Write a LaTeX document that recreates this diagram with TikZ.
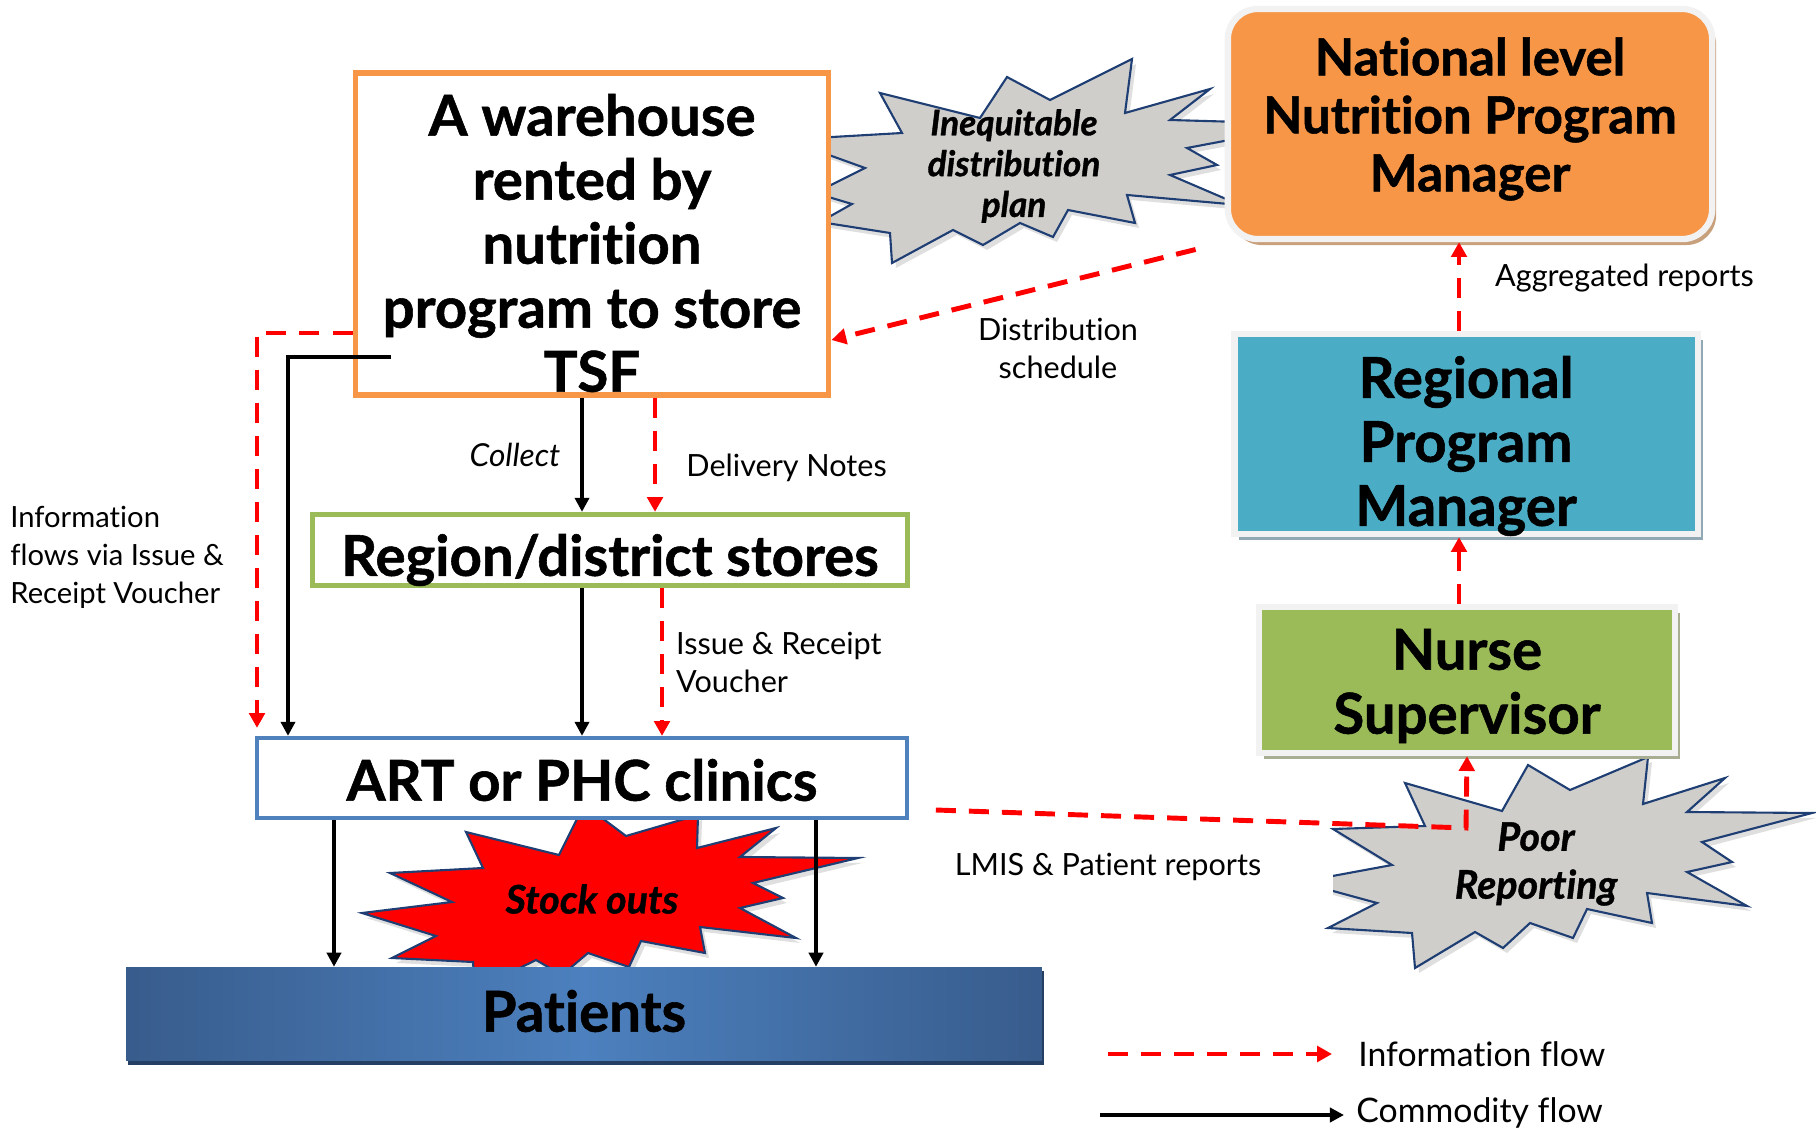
\documentclass[tikz,border=0pt]{standalone}
\usepackage{fontspec}
\setmainfont{Lato}[RawFeature={-liga;-clig;-dlig;-calt}, BoldFeatures={FakeBold=1.0}, BoldItalicFeatures={FakeBold=1.0}]
\usetikzlibrary{arrows.meta,positioning,calc,shadows}

\definecolor{whorange}{HTML}{F79646}
\definecolor{storegreen}{HTML}{9BBB59}
\definecolor{clinicblue}{HTML}{4F81BD}
\definecolor{regaqua}{HTML}{4BACC6}
\definecolor{burstgray}{HTML}{D0CECB}
\definecolor{burstline}{HTML}{1F3F74}
\definecolor{infored}{HTML}{FF0000}
\definecolor{panelrim}{HTML}{F2F2F2}
\definecolor{natshadow}{HTML}{C9A07C}
\definecolor{regshadow}{HTML}{90A9B4}
\definecolor{nurseshadow}{HTML}{A7AE92}
\definecolor{patdark}{HTML}{385C8C}
\definecolor{patlight}{HTML}{4C80BE}
\definecolor{patshadow}{HTML}{243F63}

\begin{document}
\begin{tikzpicture}[
  x=0.01cm, y=-0.01cm,
  every node/.style={align=center},
  bigtext/.style={font=\fontsize{16}{18.2}\selectfont\bfseries},
  lbl/.style={font=\fontsize{8.7}{10.8}\selectfont},
  burst/.style={fill=burstgray, draw=burstline, line width=0.6pt,
    drop shadow={shadow xshift=0.04cm, shadow yshift=-0.05cm, opacity=0.25}},
  burstlbl/.style={font=\fontsize{10}{11.6}\selectfont\bfseries\itshape},
  whbox/.style={draw=whorange, line width=1.6pt, fill=white,
    minimum width=4.73cm, minimum height=3.22cm},
  flatbox/.style={fill=white, inner sep=0pt},
  panel/.style={draw=panelrim, line width=1.8pt, inner sep=0pt},
  legendtext/.style={anchor=west, font=\fontsize{9.6}{12}\selectfont},
  info/.style={->, >={Triangle[length=4.2pt,width=4.4pt]}, draw=infored,
    line width=1.4pt, dash pattern=on 5.7pt off 3.7pt},
  goods/.style={->, >={Triangle[length=4pt,width=4pt]}, line width=1.1pt}]

  \useasboundingbox (0,0) rectangle (1816,1134);

  % Starbursts (behind the boxes)
  \draw[burst] (815,138) -- (902,133) -- (880,93) -- (980,118) -- (1007,77)
    -- (1050,100) -- (1132,59) -- (1125,113) -- (1210,89) -- (1170,120)
    -- (1240,122) -- (1240,138) -- (1187,148) -- (1217,165) -- (1170,175)
    -- (1240,205) -- (1127,195) -- (1135,223) -- (1068,210) -- (1053,237)
    -- (1020,223) -- (983,245) -- (953,230) -- (892,263) -- (890,233)
    -- (820,222) -- (852,204) -- (815,193) -- (865,168) -- (815,150) -- cycle;
  \draw[burst] (1405,783) -- (1425,826) -- (1333,829) -- (1392,865) -- (1300,882)
    -- (1377,903) -- (1328,928) -- (1412,933) -- (1415,968) -- (1475,932)
    -- (1503,948) -- (1530,923) -- (1573,938) -- (1587,909) -- (1652,923)
    -- (1647,893) -- (1747,906) -- (1687,872) -- (1732,862) -- (1702,842)
    -- (1812,813) -- (1687,812) -- (1725,778) -- (1643,804) -- (1648,757)
    -- (1570,790) -- (1528,765) -- (1502,811) -- cycle;
  \draw[burst, fill=infored] (466,832) -- (483,868) -- (390,873) -- (452,902)
    -- (362,913) -- (436,936) -- (392,958) -- (473,962) -- (475,990)
    -- (536,960) -- (562,975) -- (588,953) -- (629,967) -- (641,941)
    -- (705,953) -- (700,927) -- (796,938) -- (740,908) -- (783,898)
    -- (753,883) -- (858,858) -- (740,857) -- (776,828) -- (697,848)
    -- (698,815) -- (626,836) -- (602,818) -- (579,815) -- (559,855) -- cycle;

  % Boxes
  \node[whbox] (wh) at (592,234) {};
  \node[panel, fill=whorange, rounded corners=0.3cm, minimum width=4.84cm,
    minimum height=2.3cm,
    drop shadow={shadow xshift=0.04cm, shadow yshift=-0.06cm, fill=natshadow, opacity=1}]
    (natl) at (1470,124) {};
  \node[panel, fill=regaqua, minimum width=4.63cm, minimum height=2.0cm,
    drop shadow={shadow xshift=0.05cm, shadow yshift=-0.06cm, fill=regshadow, opacity=1}]
    (regional) at (1466,434) {};
  \node[panel, fill=storegreen, minimum width=4.16cm, minimum height=1.46cm,
    drop shadow={shadow xshift=0.05cm, shadow yshift=-0.06cm, fill=nurseshadow, opacity=1}]
    (nurse) at (1467,680) {};
  \node[flatbox, draw=storegreen, line width=1.5pt, minimum width=5.94cm,
    minimum height=0.71cm] (store) at (610,550) {};
  \node[flatbox, draw=clinicblue, line width=1.2pt, minimum width=6.49cm,
    minimum height=0.8cm] (art) at (582,778) {};
  \node[left color=patdark, right color=patdark, middle color=patlight,
    minimum width=9.15cm, minimum height=0.93cm,
    drop shadow={shadow xshift=0.02cm, shadow yshift=-0.04cm, fill=patshadow, opacity=1}]
    (patients) at (584,1014) {};

  % Box texts
  \node[bigtext] (whtext) at ([yshift=-0.09cm]wh.center)
    {A warehouse\\rented by\\nutrition\\program to store\\TSF};
  \node[bigtext, font=\fontsize{14.5}{16.5}\selectfont\bfseries] (natltext)
    at ([yshift=0.05cm]natl.center) {National level\\Nutrition Program\\Manager};
  \node[bigtext] (regionaltext) at ([yshift=-0.12cm]regional.center)
    {Regional\\Program\\Manager};
  \node[bigtext] (nursetext) at ([yshift=-0.06cm]nurse.center) {Nurse\\Supervisor};
  \node[bigtext] (storetext) at ([yshift=-0.1cm]store.center) {Region/district stores};
  \node[bigtext] (arttext) at ([yshift=-0.02cm]art.center) {ART or PHC clinics};
  \node[bigtext] (patientstext) at ([yshift=0.03cm]patients.center) {Patients};

  % Starburst texts
  \node[burstlbl] (unfair) at (1014,166) {Inequitable\\distribution\\plan};
  \node[burstlbl, font=\fontsize{11.2}{13.6}\selectfont\bfseries\itshape]
    (poorrep) at (1536,864) {Poor\\Reporting};
  \node[burstlbl, font=\fontsize{11.2}{12}\selectfont\bfseries\itshape]
    (stockout) at (592,899) {Stock outs};

  % Commodity flow
  \draw[goods] (wh.south -| art.north) -- node[midway, left=0.08cm,
    font=\fontsize{9}{10}\selectfont\itshape] (collectlbl) {Collect}
    (store.north -| art.north);
  \draw[goods] (store.south -| art.north) -- (art.north);
  \coordinate (whtap) at (391,357);
  \draw[goods] (whtap) -| (288,0 |- art.north);
  \draw[goods] (334,0 |- art.south) -- (334,0 |- patients.north);
  \draw[goods] (816,0 |- art.south) -- (816,0 |- patients.north);

  % Information flow
  \coordinate (aggx) at (1459,0);
  \draw[info] (655,0 |- wh.south) -- (655,0 |- store.north);
  \draw[info] (662,0 |- store.south) -- node[midway, right, align=left, lbl]
    (ivrlbl) {Issue \& Receipt\\Voucher} (662,0 |- art.north);
  \draw[info, shorten >=0.08cm] (wh.west |- 0,333) -| (257,0 |- art.north);
  \draw[info, shorten <=0.3cm] (natl.south west) -- (wh.east |- 0,340);
  \draw[info] (regional.north -| aggx) -- node[midway, right=0.22cm, yshift=0.08cm, lbl]
    (agglbl) {Aggregated reports} (natl.south -| aggx);
  \draw[info] (nurse.north -| aggx) -- (regional.south -| aggx);
  \coordinate (lmisbend) at (1466,828);
  \draw[info] ($(art.east)+(27,32)$) -- (lmisbend) -- (nurse.south);

  % Labels
  \node[lbl, anchor=west] (delivlbl) at (674,468) {Delivery Notes};
  \node[lbl] (distlbl) at (1058,348) {Distribution\\schedule};
  \node[lbl, fill=white, minimum width=4.5cm, minimum height=0.6cm]
    (lmislbl) at (1108,867) {LMIS \& Patient reports};
  \node[lbl, font=\fontsize{8.3}{10.8}\selectfont, anchor=west, align=left]
    (ivnote) at (-2,557) {Information\\flows via Issue \&\\Receipt Voucher};

  % Legend
  \node[legendtext] (infoleg) at (1346,1054) {Information flow};
  \node[legendtext] (goodsleg) at (1344,1113) {Commodity flow};
  \coordinate (infostart) at (1108,1054);
  \coordinate (goodsstart) at (1100,1115);
  \draw[info, shorten >=0.14cm] (infostart) -- (infoleg.west);
  \draw[goods, line width=1.3pt] (goodsstart) -- (goodsleg.west |- goodsstart);
\end{tikzpicture}
\end{document}
